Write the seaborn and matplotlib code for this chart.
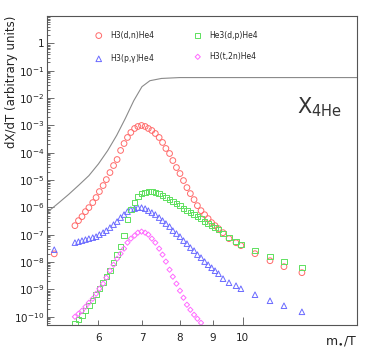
import numpy as np
import pandas as pd
import matplotlib
matplotlib.use("Agg")
import matplotlib.pyplot as plt
import matplotlib.ticker as mticker
import seaborn as sns

# ------------------------------------------------------------------
# data (x = m_e/T, y = dX/dT in arbitrary units)
# ------------------------------------------------------------------
nan = np.nan

x_rates = [5.13,
           5.52, 5.59, 5.66, 5.73, 5.80, 5.88, 5.95, 6.02, 6.10, 6.17,
           6.25, 6.33, 6.41, 6.49, 6.57, 6.65, 6.73, 6.82, 6.90, 6.99,
           7.08, 7.16, 7.25, 7.34, 7.44, 7.53, 7.62, 7.72, 7.81, 7.91,
           8.01, 8.11, 8.21, 8.31, 8.42, 8.52, 8.63, 8.74, 8.85, 8.96,
           9.07, 9.18,
           9.33, 9.53, 9.77, 9.94, 10.45, 11.02, 11.58, 12.34]

h3_dn = [2.0e-8,
         2.15e-7, 3.28e-7, 4.6e-7, 7.0e-7, 9.8e-7, 1.5e-6, 2.29e-6, 3.79e-6, 6.3e-6, 1.04e-5,
         1.88e-5, 3.4e-5, 5.64e-5, 1.21e-4, 2.17e-4, 3.61e-4, 5.5e-4, 7.7e-4, 9.1e-4, 9.9e-4,
         9.1e-4, 7.7e-4, 6.5e-4, 5.05e-4, 3.61e-4, 2.37e-4, 1.43e-4, 9.35e-5, 5.18e-5, 2.87e-5,
         1.73e-5, 9.6e-6, 5.3e-6, 3.2e-6, 1.93e-6, 1.16e-6, 7.6e-7, 5.4e-7, 3.89e-7, 2.77e-7,
         2.15e-7, 1.67e-7,
         1.19e-7, 7.2e-8, 5.1e-8, 4.0e-8, 2.03e-8, 1.12e-8, 6.8e-9, 4.1e-9]

he3_dp = [nan,
          5.5e-11, 7.8e-11, 1.09e-10, 1.66e-10, 2.53e-10, 3.85e-10, 6.4e-10, 1.06e-9, 1.76e-9, 2.92e-9,
          4.84e-9, 9.5e-9, 1.87e-8, 3.66e-8, 9.3e-8, 3.57e-7, 8.3e-7, 1.5e-6, 2.49e-6, 3.2e-6,
          3.48e-6, 3.79e-6, 3.79e-6, 3.48e-6, 3.2e-6, 2.7e-6, 2.29e-6, 1.93e-6, 1.63e-6, 1.38e-6,
          1.16e-6, 9.0e-7, 7.6e-7, 6.45e-7, 5.45e-7, 4.6e-7, 3.89e-7, 3.02e-7, 2.55e-7, 2.15e-7,
          1.82e-7, 1.54e-7,
          1.1e-7, 7.8e-8, 5.6e-8, 4.3e-8, 2.62e-8, 1.58e-8, 1.04e-8, 6.2e-9]

h3_pg = [2.84e-8,
         5.14e-8, 5.58e-8, 6.08e-8, 6.62e-8, 7.2e-8, 7.83e-8, 8.5e-8, 1.01e-7, 1.19e-7, 1.41e-7,
         1.82e-7, 2.34e-7, 3.02e-7, 4.23e-7, 5.45e-7, 7.0e-7, 8.3e-7, 9.0e-7, 9.8e-7, 9.8e-7,
         9.0e-7, 7.6e-7, 6.45e-7, 5.45e-7, 4.23e-7, 3.28e-7, 2.55e-7, 1.98e-7, 1.41e-7, 1.1e-7,
         8.5e-8, 6.08e-8, 4.72e-8, 3.37e-8, 2.62e-8, 1.87e-8, 1.45e-8, 1.04e-8, 8.0e-9, 6.2e-9,
         4.84e-9, 3.76e-9,
         2.47e-9, 1.76e-9, 1.37e-9, 1.06e-9, 6.4e-10, 3.85e-10, 2.53e-10, 1.52e-10]

h3_t2n = [nan,
          1.0e-10, 1.29e-10, 1.66e-10, 2.32e-10, 3.26e-10, 4.56e-10, 6.95e-10, 1.06e-9, 1.62e-9, 2.69e-9,
          4.84e-9, 8.0e-9, 1.33e-8, 2.03e-8, 3.1e-8, 5.14e-8, 7.2e-8, 9.3e-8, 1.19e-7, 1.3e-7,
          1.19e-7, 1.01e-7, 7.2e-8, 5.14e-8, 3.1e-8, 1.87e-8, 1.04e-8, 5.27e-9, 2.92e-9, 1.62e-9,
          8.95e-10, 4.96e-10, 2.75e-10, 1.8e-10, 1.18e-10, 8.45e-11, 6.0e-11, nan, nan, nan,
          nan, nan,
          nan, nan, nan, nan, nan, nan, nan, nan]

# X_4He abundance curve
x_he4 = [5.0, 5.2, 5.4, 5.6, 5.8, 6.0, 6.2, 6.4, 6.6, 6.8, 7.0, 7.2, 7.5, 8.0, 15.0]
y_he4 = [6.5e-7, 1.4e-6, 3.0e-6, 6.6e-6, 1.45e-5, 3.9e-5, 1.2e-4, 4.3e-4,
         1.8e-3, 8.0e-3, 2.6e-2, 4.3e-2, 5.2e-2, 5.6e-2, 5.6e-2]

labels = ["H3(d,n)He4", "H3(p,$\\gamma$)He4", "He3(d,p)He4", "H3(t,2n)He4"]
series = [h3_dn, h3_pg, he3_dp, h3_t2n]
colors = ["#ff6a6a", "#6a6aff", "#5ee05e", "#ff6aff"]
markers = ["o", "^", "s", "D"]
sizes = [17, 16, 15, 7]

# ------------------------------------------------------------------
sns.set_theme(style="ticks")
plt.rcParams['font.family'] = ['DejaVu Sans']
plt.rcParams['mathtext.default'] = 'regular'

fig = plt.figure(figsize=(3.68, 3.58), dpi=100)
ax = fig.add_axes([47 / 368, 1 - 325 / 358, 310 / 368, 309 / 358])

sns.lineplot(x=x_he4, y=y_he4, ax=ax, color="#8a8a8a", lw=0.8,
             estimator=None, sort=False)

for ys, lab, c, m, s in zip(series, labels, colors, markers, sizes):
    df = pd.DataFrame({"x": x_rates, "y": ys}).dropna()
    sns.scatterplot(data=df, x="x", y="y", ax=ax, marker=m, s=s,
                    facecolors="none", edgecolors=c, linewidths=0.7,
                    label=lab)

ax.set_xscale("log")
ax.set_yscale("log")
ax.set_xlim(5, 15)
ax.set_ylim(5e-11, 10)

# x ticks: 10 is major, 6..9 labelled secondary ticks
ax.xaxis.set_major_locator(mticker.FixedLocator([10]))
ax.xaxis.set_major_formatter(mticker.FixedFormatter(["10"]))
ax.xaxis.set_minor_locator(mticker.FixedLocator([6, 7, 8, 9]))
ax.xaxis.set_minor_formatter(mticker.FixedFormatter(["6", "7", "8", "9"]))

# y ticks
ax.yaxis.set_major_locator(mticker.FixedLocator([10.0 ** k for k in range(-10, 1)]))
def ylab(v, pos):
    k = int(round(np.log10(v)))
    return "1" if k == 0 else "$10^{%d}$" % k
ax.yaxis.set_major_formatter(mticker.FuncFormatter(ylab))
ax.yaxis.set_minor_locator(mticker.LogLocator(base=10, subs=np.arange(2, 10), numticks=30))
ax.yaxis.set_minor_formatter(mticker.NullFormatter())

ax.tick_params(axis="both", which="both", direction="in", colors="#555555",
               labelcolor="#222222", labelsize=7.5, width=0.6)
ax.tick_params(axis="x", which="major", length=6, pad=6)
ax.tick_params(axis="x", which="minor", length=3.5, pad=6)
ax.tick_params(axis="y", which="major", length=5, pad=2)
ax.tick_params(axis="y", which="minor", length=2.5)
for sp in ax.spines.values():
    sp.set_color("#555555")
    sp.set_linewidth(0.8)

ax.set_ylabel("dX/dT (arbitrary units)", loc="top", fontsize=8.5, color="#222222")
ax.yaxis.set_label_coords(-0.092, 1.0)
ax.set_xlabel("m$_{\\bullet}$/T", loc="right", fontsize=9, color="#222222")
ax.xaxis.set_label_coords(1.0, -0.03)

ax.text(0.805, 0.685, "X$_{4He}$", transform=ax.transAxes, fontsize=15,
        color="#333333", ha="left", va="baseline")

handles, labs = ax.get_legend_handles_labels()
ax.legend(handles, labs, ncol=2, frameon=False, loc="upper left",
          bbox_to_anchor=(0.13, 0.975), fontsize=5.5, labelspacing=1.6,
          handletextpad=0.9, columnspacing=5.0, handlelength=1.2,
          markerscale=1.0)

fig.savefig("out.png", dpi=100)
